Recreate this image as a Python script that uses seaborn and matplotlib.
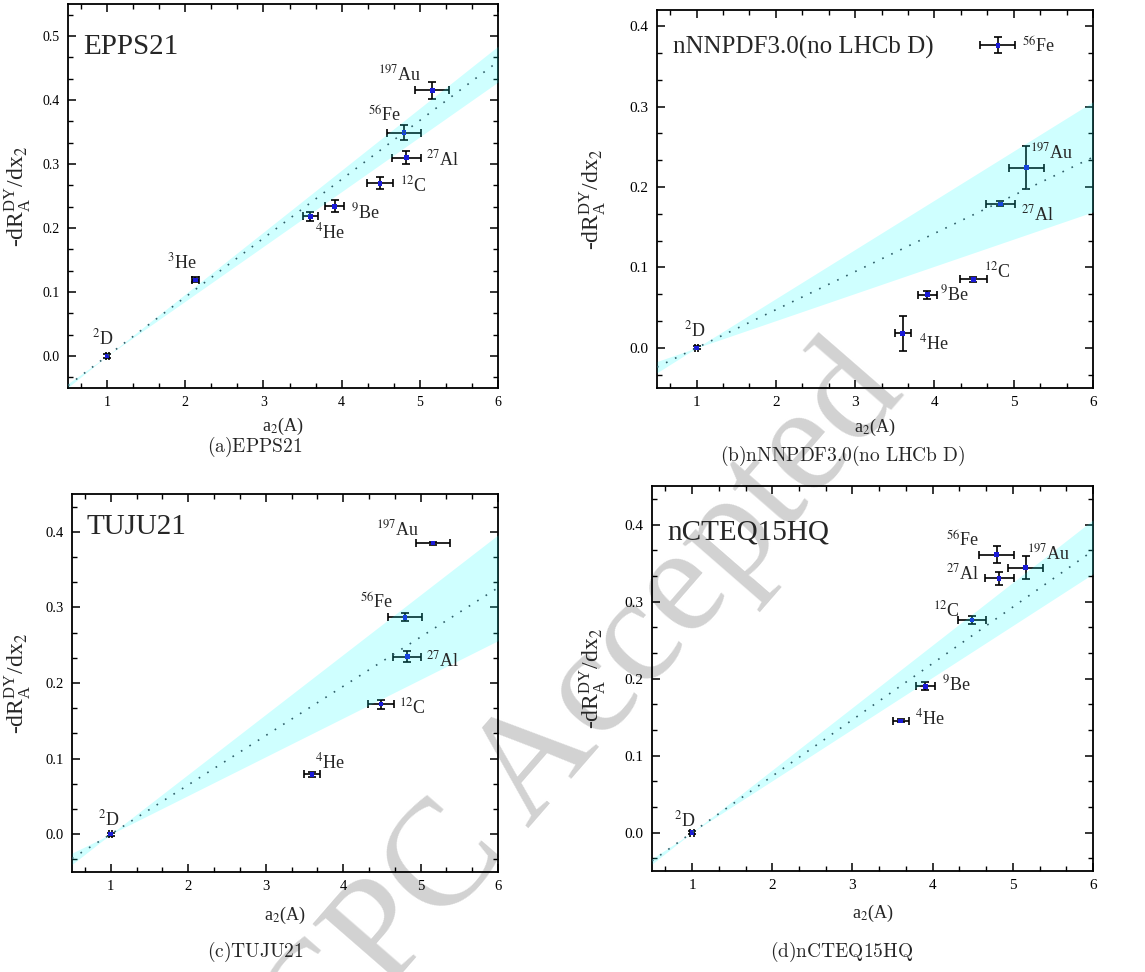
import matplotlib
matplotlib.use("Agg")
import matplotlib.pyplot as plt
from matplotlib.ticker import MultipleLocator, AutoMinorLocator, FormatStrFormatter
import seaborn as sns

# a2(A) of each nucleus with its uncertainty
a2 = {"D": 1.00, "3He": 2.13, "4He": 3.60, "9Be": 3.91, "12C": 4.49,
      "27Al": 4.83, "56Fe": 4.80, "197Au": 5.16}
a2_err = {"D": 0.02, "3He": 0.04, "4He": 0.10, "9Be": 0.12, "12C": 0.17,
          "27Al": 0.18, "56Fe": 0.22, "197Au": 0.22}
nucleus_label = {"D": r"$^{2}$D", "3He": r"$^{3}$He", "4He": r"$^{4}$He",
                 "9Be": r"$^{9}$Be", "12C": r"$^{12}$C", "27Al": r"$^{27}$Al",
                 "56Fe": r"$^{56}$Fe", "197Au": r"$^{197}$Au"}

# -dR/dx2 slopes per nPDF set
epps_nuclei = ["D", "3He", "4He", "9Be", "12C", "27Al", "56Fe", "197Au"]
epps_slope = [0.0, 0.119, 0.218, 0.234, 0.270, 0.310, 0.349, 0.415]
epps_err = [0.003, 0.004, 0.007, 0.009, 0.009, 0.010, 0.012, 0.013]

nnpdf_nuclei = ["D", "4He", "9Be", "12C", "27Al", "56Fe", "197Au"]
nnpdf_slope = [0.0, 0.018, 0.066, 0.085, 0.179, 0.376, 0.224]
nnpdf_err = [0.002, 0.022, 0.005, 0.003, 0.003, 0.010, 0.027]

tuju_nuclei = ["D", "4He", "12C", "27Al", "56Fe", "197Au"]
tuju_slope = [0.0, 0.079, 0.172, 0.235, 0.287, 0.385]
tuju_err = [0.002, 0.003, 0.006, 0.007, 0.005, 0.002]

ncteq_nuclei = ["D", "4He", "9Be", "12C", "27Al", "56Fe", "197Au"]
ncteq_slope = [0.0, 0.145, 0.190, 0.276, 0.330, 0.361, 0.344]
ncteq_err = [0.002, 0.002, 0.005, 0.005, 0.008, 0.011, 0.015]

# linear fits and their error bands, read at a2 = 0.5, 1, 6
fit_x = [0.5, 1.0, 6.0]
epps_fit = [-0.046, 0.0, 0.460]
epps_lo = [-0.043, 0.0, 0.428]
epps_hi = [-0.049, 0.0, 0.484]
nnpdf_fit = [-0.024, 0.0, 0.237]
nnpdf_lo = [-0.017, 0.0, 0.169]
nnpdf_hi = [-0.031, 0.0, 0.306]
tuju_fit = [-0.032, 0.0, 0.326]
tuju_lo = [-0.025, 0.0, 0.256]
tuju_hi = [-0.040, 0.0, 0.396]
ncteq_fit = [-0.037, 0.0, 0.366]
ncteq_lo = [-0.034, 0.0, 0.336]
ncteq_hi = [-0.041, 0.0, 0.406]

# label offsets (pixels) from each point
epps_offsets = {"D": (-15, 12), "3He": (-28, 11), "4He": (5, -22), "9Be": (16, -12),
                "12C": (20, -8), "27Al": (20, -8), "56Fe": (-36, 11), "197Au": (-54, 10)}
nnpdf_offsets = {"D": (-13, 11), "4He": (16, -16), "9Be": (13, -6), "12C": (11, 2),
                 "27Al": (21, -17), "56Fe": (24, -7), "197Au": (4, 9)}
tuju_offsets = {"D": (-13, 9), "4He": (3, 6), "12C": (18, -9), "27Al": (19, -10),
                "56Fe": (-45, 8), "197Au": (-57, 8)}
ncteq_offsets = {"D": (-18, 6), "4He": (14, -4), "9Be": (17, -4), "12C": (-39, 4),
                 "27Al": (-53, -1), "56Fe": (-51, 8), "197Au": (1, 8)}

panels = [
    dict(name="EPPS21", caption=r"$\mathrm{(a)EPPS21}$", nuclei=epps_nuclei,
         y=epps_slope, yerr=epps_err, fit=epps_fit, lo=epps_lo, hi=epps_hi,
         offsets=epps_offsets, rect=[0.0594, 0.6008, 0.3755, 0.3951],
         ylim=(-0.05, 0.55), title_pos=(0.035, 0.87), title_size=21, tick_size=10,
         ylab_x=-0.081, xlab_y=-0.072, cap_pos=(255, 447)),
    dict(name="nNNPDF3.0(no LHCb D)", caption=r"$\mathrm{(b)nNNPDF3.0(no\ LHCb\ D)}$",
         nuclei=nnpdf_nuclei, y=nnpdf_slope, yerr=nnpdf_err, fit=nnpdf_fit,
         lo=nnpdf_lo, hi=nnpdf_hi, offsets=nnpdf_offsets,
         rect=[0.5738, 0.6008, 0.3808, 0.3889], ylim=(-0.05, 0.42),
         title_pos=(0.037, 0.886), title_size=18, tick_size=11,
         ylab_x=-0.112, xlab_y=-0.076, cap_pos=(843, 456)),
    dict(name="TUJU21", caption=r"$\mathrm{(c)TUJU21}$", nuclei=tuju_nuclei,
         y=tuju_slope, yerr=tuju_err, fit=tuju_fit, lo=tuju_lo, hi=tuju_hi,
         offsets=tuju_offsets, rect=[0.0629, 0.1029, 0.3721, 0.3889],
         ylim=(-0.05, 0.45), title_pos=(0.033, 0.894), title_size=21, tick_size=10.5,
         ylab_x=-0.092, xlab_y=-0.087, cap_pos=(255, 952)),
    dict(name="nCTEQ15HQ", caption=r"$\mathrm{(d)nCTEQ15HQ}$", nuclei=ncteq_nuclei,
         y=ncteq_slope, yerr=ncteq_err, fit=ncteq_fit, lo=ncteq_lo, hi=ncteq_hi,
         offsets=ncteq_offsets, rect=[0.5694, 0.1039, 0.3852, 0.3961],
         ylim=(-0.05, 0.45), title_pos=(0.036, 0.86), title_size=21, tick_size=11,
         ylab_x=-0.10, xlab_y=-0.083, cap_pos=(842, 952)),
]

sns.set_theme(style="ticks")
plt.rcParams["font.family"] = ["Liberation Serif", "DejaVu Serif"]
plt.rcParams["mathtext.fontset"] = "stix"
plt.rcParams["axes.edgecolor"] = "black"
plt.rcParams["axes.linewidth"] = 1.3

W, H = 1145, 972
fig = plt.figure(figsize=(W / 100, H / 100), dpi=100)
fig.patch.set_facecolor("white")

# watermark behind the panels
fig.text(0.511, 0.272, "CPC Accepted", rotation=49, fontsize=110, color="#d2d2d2",
         ha="center", va="center", zorder=-5, family="Liberation Serif")

for p in panels:
    ax = fig.add_axes(p["rect"])
    ax.set_facecolor("none")
    xs = [a2[n] for n in p["nuclei"]]
    xe = [a2_err[n] for n in p["nuclei"]]

    ax.errorbar(xs, p["y"], xerr=xe, yerr=p["yerr"], fmt="none", ecolor="black",
                elinewidth=1.2, capsize=3, capthick=1.2, zorder=2)
    sns.scatterplot(x=xs, y=p["y"], ax=ax, color="#1a1ad8", marker="s", s=11,
                    edgecolor="none", linewidth=0, zorder=2.5, legend=False)
    ax.fill_between(fit_x, p["lo"], p["hi"], color="cyan", alpha=0.19,
                    linewidth=0, zorder=3)
    sns.lineplot(x=fit_x, y=p["fit"], ax=ax, color="#2f5f6a", linewidth=1.2,
                 linestyle=(0, (1, 5)), zorder=4)

    for n, xv, yv in zip(p["nuclei"], xs, p["y"]):
        dx, dy = p["offsets"][n]
        ax.annotate(nucleus_label[n], (xv, yv), xytext=(dx, dy),
                    textcoords="offset pixels", ha="left", va="baseline",
                    fontsize=13, zorder=5)

    ax.text(p["title_pos"][0], p["title_pos"][1], p["name"], transform=ax.transAxes,
            fontsize=p["title_size"], ha="left", va="baseline")

    ax.set_xlim(0.5, 6)
    ax.set_ylim(*p["ylim"])
    ax.xaxis.set_major_locator(MultipleLocator(1))
    ax.xaxis.set_minor_locator(AutoMinorLocator(3))
    ax.yaxis.set_major_locator(MultipleLocator(0.1))
    ax.yaxis.set_minor_locator(AutoMinorLocator(3))
    ax.yaxis.set_major_formatter(FormatStrFormatter("%.1f"))
    ax.tick_params(which="both", direction="in", top=True, right=True,
                   labelsize=p["tick_size"], pad=6, colors="black")
    ax.tick_params(which="major", length=6, width=1.1)
    ax.tick_params(which="minor", length=3.5, width=1.0)
    for s in ax.spines.values():
        s.set_visible(True)
        s.set_color("black")

    ax.set_xlabel(r"a$_2$(A)", fontsize=13)
    ax.set_ylabel(r"-dR$_\mathregular{A}^\mathregular{DY}$/dx$_2$", fontsize=17)
    ax.xaxis.set_label_coords(0.5, p["xlab_y"])
    ax.yaxis.set_label_coords(p["ylab_x"], 0.5)

    cx, cy = p["cap_pos"]
    fig.text(cx / W, 1 - cy / H, p["caption"], math_fontfamily="cm",
             fontsize=14, ha="center", va="center")

fig.savefig("out.png", dpi=100, facecolor="white")
